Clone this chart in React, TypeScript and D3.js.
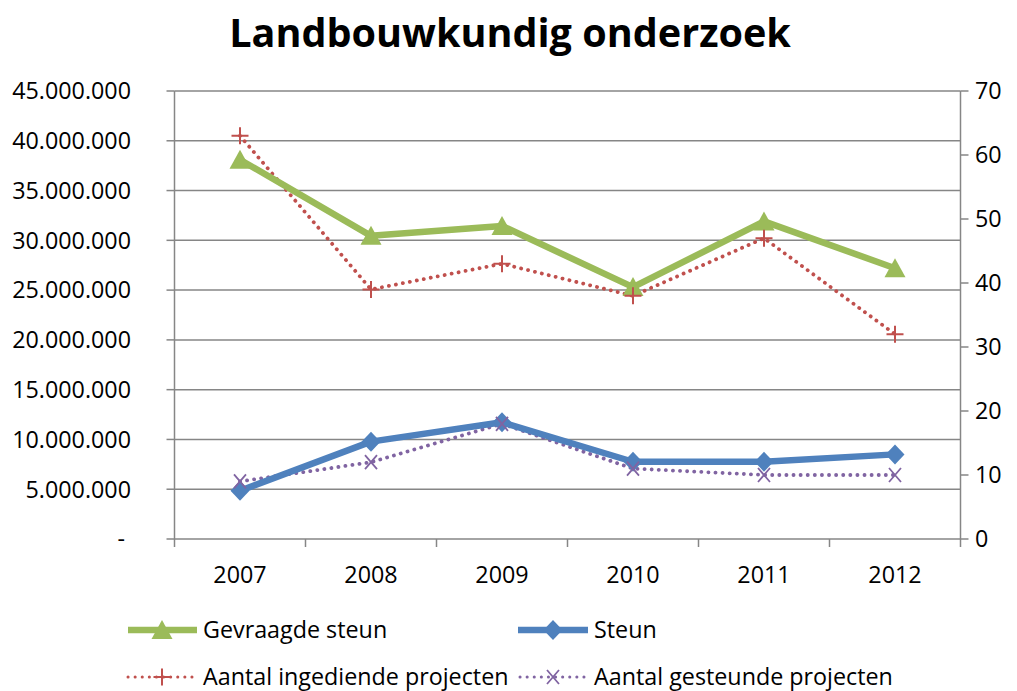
import React from "react";
import * as d3 from "d3";

const years = ["2007", "2008", "2009", "2010", "2011", "2012"];
const gevraagdeSteun = [38100000, 30450000, 31450000, 25300000, 31900000, 27200000];
const steun = [4850000, 9780000, 11730000, 7760000, 7760000, 8500000];
const aantalIngediend = [63, 39, 43, 38, 47, 32];
const aantalGesteund = [9, 12, 18, 11, 10, 10];
const leftTicks = [0, 5000000, 10000000, 15000000, 20000000, 25000000, 30000000, 35000000, 40000000, 45000000];
const rightTicks = [0, 10, 20, 30, 40, 50, 60, 70];

const GREEN = "#9BBB59";
const BLUE = "#4F81BD";
const RED = "#C0504D";
const PURPLE = "#8064A2";
const GRID = "#868686";
const FONT = "'Open Sans', sans-serif";
const FS = 23.3;

const W = 1017;
const H = 691;
const L = 174.5;
const R = 960.5;
const T = 91;
const B = 539;

const fmt = (v: number) => (v === 0 ? "-" : d3.format(",")(v).replace(/,/g, "."));

const tri = (x: number, y: number) => `M${x},${y - 10}L${x + 10.5},${y + 9}L${x - 10.5},${y + 9}Z`;
const dia = (x: number, y: number) => `M${x},${y - 10}L${x + 9.5},${y}L${x},${y + 10}L${x - 9.5},${y}Z`;
const plus = (x: number, y: number) => `M${x - 8.5},${y}L${x + 8.5},${y}M${x},${y - 8.5}L${x},${y + 8.5}`;
const cross = (x: number, y: number) => `M${x - 6},${y - 7}L${x + 6},${y + 7}M${x + 6},${y - 7}L${x - 6},${y + 7}`;

export default function App() {
  const x = d3.scaleBand<string>().domain(years).range([L, R]);
  const cx = (d: string) => (x(d) as number) + x.bandwidth() / 2;
  const yL = d3.scaleLinear().domain([0, 45000000]).range([B, T]);
  const yR = d3.scaleLinear().domain([0, 70]).range([B, T]);

  const lineL = d3.line<number>().x((_, i) => cx(years[i])).y((v) => yL(v));
  const lineR = d3.line<number>().x((_, i) => cx(years[i])).y((v) => yR(v));

  const dotted = { strokeDasharray: "0.1 7", strokeLinecap: "round" as const, strokeWidth: 3.8, fill: "none" };

  return (
    <svg width={W} height={H} style={{ position: "absolute", left: 0, top: 0, background: "#fff" }} fontFamily={FONT}>
      <rect width={W} height={H} fill="#fff" />
      <text x={510} y={47} textAnchor="middle" fontSize={39.6} fontWeight="bold" fill="#000">
        Landbouwkundig onderzoek
      </text>

      {leftTicks.map((t) => (
        <g key={"l" + t}>
          {t > 0 && <line x1={L} x2={R} y1={yL(t)} y2={yL(t)} stroke={GRID} strokeWidth={1.5} />}
          <line x1={L - 8} x2={L} y1={yL(t)} y2={yL(t)} stroke={GRID} strokeWidth={1.5} />
          <text x={t === 0 ? 125 : 131} y={yL(t)} dy="0.36em" textAnchor="end" fontSize={FS} fill="#000">
            {fmt(t)}
          </text>
        </g>
      ))}
      {rightTicks.map((t) => (
        <g key={"r" + t}>
          <line x1={R} x2={R + 8} y1={yR(t)} y2={yR(t)} stroke={GRID} strokeWidth={1.5} />
          <text x={975} y={yR(t)} dy="0.36em" textAnchor="start" fontSize={FS} fill="#000">
            {t}
          </text>
        </g>
      ))}
      <line x1={L} x2={L} y1={T} y2={B} stroke={GRID} strokeWidth={1.5} />
      <line x1={R} x2={R} y1={T} y2={B} stroke={GRID} strokeWidth={1.5} />
      <line x1={L} x2={R} y1={B} y2={B} stroke={GRID} strokeWidth={1.5} />
      {years.map((d) => (
        <line key={"t" + d} x1={x(d) as number} x2={x(d) as number} y1={B} y2={B + 8} stroke={GRID} strokeWidth={1.5} />
      ))}
      <line x1={R} x2={R} y1={B} y2={B + 8} stroke={GRID} strokeWidth={1.5} />
      {years.map((d) => (
        <text key={"x" + d} x={cx(d)} y={575} dy="0.36em" textAnchor="middle" fontSize={FS} fill="#000">
          {d}
        </text>
      ))}

      <path d={lineR(aantalIngediend) as string} stroke={RED} {...dotted} />
      <path d={lineR(aantalGesteund) as string} stroke={PURPLE} {...dotted} />
      <path d={lineL(gevraagdeSteun) as string} stroke={GREEN} strokeWidth={6.5} fill="none" strokeLinejoin="round" />
      <path d={lineL(steun) as string} stroke={BLUE} strokeWidth={6.5} fill="none" strokeLinejoin="round" />
      {gevraagdeSteun.map((v, i) => (
        <path key={"g" + i} d={tri(cx(years[i]), yL(v))} fill={GREEN} />
      ))}
      {steun.map((v, i) => (
        <path key={"s" + i} d={dia(cx(years[i]), yL(v))} fill={BLUE} />
      ))}
      {aantalIngediend.map((v, i) => (
        <path key={"a" + i} d={plus(cx(years[i]), yR(v))} stroke={RED} strokeWidth={2} fill="none" />
      ))}
      {aantalGesteund.map((v, i) => (
        <path key={"b" + i} d={cross(cx(years[i]), yR(v))} stroke={PURPLE} strokeWidth={1.8} fill="none" />
      ))}

      <g>
        <line x1={128} x2={197} y1={630} y2={630} stroke={GREEN} strokeWidth={6.5} />
        <path d={tri(162, 630)} fill={GREEN} />
        <text x={203} y={630} dy="0.36em" fontSize={FS} fill="#000">Gevraagde steun</text>

        <line x1={518} x2={588} y1={630} y2={630} stroke={BLUE} strokeWidth={6.5} />
        <path d={dia(553, 630)} fill={BLUE} />
        <text x={594} y={630} dy="0.36em" fontSize={FS} fill="#000">Steun</text>

        <line x1={128} x2={197} y1={677} y2={677} stroke={RED} {...dotted} strokeWidth={3} />
        <path d={plus(162, 677)} stroke={RED} strokeWidth={2} fill="none" />
        <text x={203} y={677} dy="0.36em" fontSize={FS} fill="#000">Aantal ingediende projecten</text>

        <line x1={520} x2={588} y1={677} y2={677} stroke={PURPLE} {...dotted} strokeWidth={3} />
        <path d={cross(553, 677)} stroke={PURPLE} strokeWidth={1.8} fill="none" />
        <text x={594} y={677} dy="0.36em" fontSize={FS} fill="#000">Aantal gesteunde projecten</text>
      </g>
    </svg>
  );
}
